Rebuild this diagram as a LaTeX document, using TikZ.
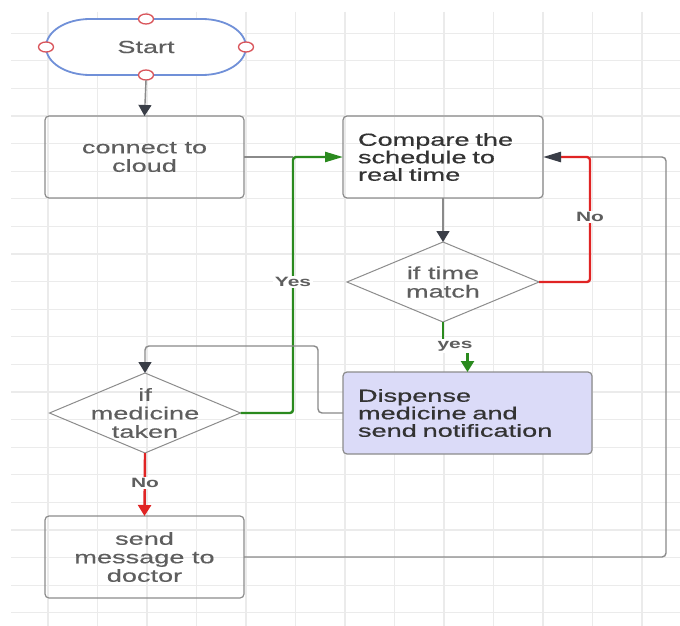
\documentclass[tikz,border=0pt]{standalone}
\usepackage{fontspec}
\setmainfont{Liberation Sans}[FakeStretch=1.55]
\newfontfamily\darkfont{Liberation Sans}[FakeStretch=1.55,FakeBold=0.6]
\newfontfamily\grayfont{Liberation Sans}[FakeStretch=1.55,FakeBold=0.3]
\usetikzlibrary{arrows.meta,shapes.geometric}
\definecolor{gridc}{HTML}{EBEBEB}
\definecolor{boxgray}{HTML}{8C8C8C}
\definecolor{linegray}{HTML}{8A8A8A}
\definecolor{txtgray}{HTML}{5E5E5E}
\definecolor{txtdark}{HTML}{333333}
\definecolor{tipdark}{HTML}{3A3E47}
\definecolor{lgreen}{HTML}{2A8A1E}
\definecolor{lred}{HTML}{E02424}
\definecolor{lav}{HTML}{DBDBF8}
\definecolor{startblue}{HTML}{7090D8}
\definecolor{pinred}{HTML}{D9545A}
\tikzset{
  gridline/.style={draw=gridc, line width=1.3pt},
  box/.style={draw=boxgray, line width=1.2pt, rounded corners=4pt, minimum width=199pt,
    minimum height=82pt, inner sep=0pt, outer sep=0pt, text=txtgray, align=center,
    font=\grayfont\fontsize{17.5}{18.5}\selectfont},
  dbox/.style={box, text=txtdark, align=left, inner xsep=15pt,
    font=\darkfont\fontsize{17.5}{17.5}\selectfont},
  dia/.style={diamond, draw=boxgray, line width=1pt, inner sep=0pt, outer sep=0pt,
    minimum width=192pt, minimum height=80pt},
  diatext/.style={text=txtgray, align=center, inner sep=0pt, font=\grayfont\fontsize{17.5}{18.5}\selectfont},
  pin/.style={ellipse, draw=pinred, fill=white, line width=1.3pt, inner sep=0pt, outer sep=0pt,
    minimum width=15pt, minimum height=10pt},
  conn/.style={draw=linegray, line width=1.4pt, rounded corners=4pt},
  gconn/.style={draw=lgreen, line width=2.4pt, rounded corners=3pt},
  rconn/.style={draw=lred, line width=2.4pt, rounded corners=3pt},
  vtip/.style={-{Triangle[width=13pt,length=11pt,color=#1]}},
  htip/.style={-{Triangle[width=10pt,length=18pt,color=#1]}},
  lbl/.style={font=\bfseries\fontsize{13.5}{14}\selectfont, text=txtgray, fill=white, inner sep=1.5pt},
}
\begin{document}
\begin{tikzpicture}[x=1pt,y=-1pt]
\fill[white] (0,0) rectangle (680,626);
\useasboundingbox (0,0) rectangle (680,626);
% grid
\foreach \i in {0,...,12} \draw[gridline, line width=1.8pt] ({48+49.5*\i},12) -- ({48+49.5*\i},626);
\foreach \j in {0,...,21} \draw[gridline] (11,{33.2+27.6*\j}) -- (680,{33.2+27.6*\j});

% start terminal
\draw[startblue, line width=1.8pt, fill=white] (90,19) -- (202,19)
  arc[start angle=90, end angle=-90, x radius=44pt, y radius=28pt] -- (90,75)
  arc[start angle=270, end angle=90, x radius=44pt, y radius=28pt] -- cycle;
\node[text=txtgray, font=\grayfont\fontsize{17.5}{18.5}\selectfont] (start) at (146,47) {Start};
\node[pin] (pt) at (146,19) {};
\node[pin] (pb) at (146,75) {};
\node[pin] (pl) at (46,47) {};
\node[pin] (pr) at (246,47) {};

% boxes
\node[box] (cloud) at (144.5,157) {connect to\\cloud};
\node[dbox, minimum width=200pt, text width=170pt] (cmp) at (443,157) {Compare the\\schedule to\\real time};
\node[dia] (tm) at (443,282) {};
\node[diatext] (tmt) at (443,282) {if time\\match};
\node[dbox, fill=lav, minimum width=249pt, text width=219pt] (disp) at (467.5,413) {Dispense\\medicine and\\send notification};
\node[dia, minimum width=191pt] (mt) at (145,413) {};
\node[diatext] (mtt) at (145,413) {if\\medicine\\taken};
\node[box] (msg) at (144.5,557) {send\\message to\\doctor};

% connectors
\draw[conn, vtip=tipdark] (pb.south) -- (cloud.north);
\draw[conn] (cloud.east) -- (293,157);
\draw[conn] (msg.east) -- (666,557) -- (666,157) -- (590,157);
\draw[gconn, htip=lgreen] (mt.east) -- (293,413) -- (293,157) -- (cmp.west);
\node[lbl] (yes1) at (293,282) {Yes};
\draw[conn, vtip=tipdark] (cmp.south) -- (tm.north);
\draw[rconn, htip=tipdark] (tm.east) -- (590,282) -- (590,157) -- (cmp.east);
\node[lbl] (no1) at (590,217) {No};
\draw[gconn, vtip=lgreen, rounded corners=0pt] (tm.south) -- (443,346) -- (disp.north |- 0,346) -- (disp.north);
\node[lbl] (yes2) at (455,346) {yes};
\draw[conn, vtip=tipdark] (disp.west) -- (318,413) -- (318,346) -- (145,346) -- (mt.north);
\draw[rconn, vtip=lred] (mt.south) -- (msg.north);
\node[lbl] (no2) at (145,483) {No};
\end{tikzpicture}
\end{document}
